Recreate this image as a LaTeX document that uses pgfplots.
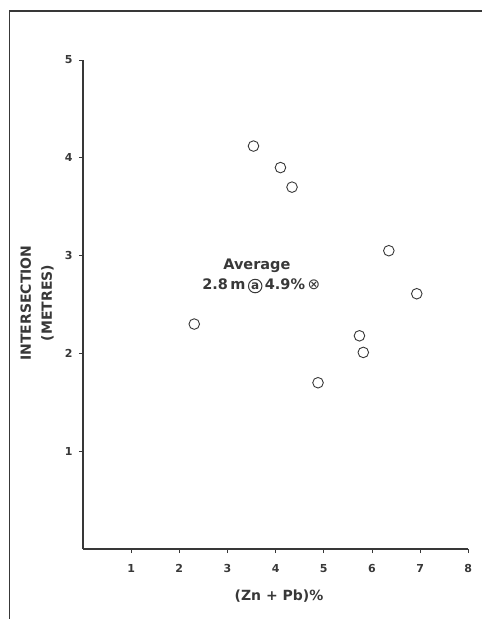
\documentclass[border=0pt]{standalone}
\usepackage{pgfplots}
\pgfplotsset{compat=1.18}
\usepackage{fontspec}
\setmainfont{DejaVu Sans}
\definecolor{ink}{gray}{0.22}
\newcommand{\circa}{\tikz[baseline=(ca.base)]\node[draw=ink, circle, line width=1pt, inner sep=0pt, minimum size=13.5pt, text=ink, font=\fontsize{12}{13}\selectfont\bfseries] (ca) {a};}
\begin{document}
\begin{tikzpicture}
\path[use as bounding box] (0pt,0pt) rectangle (482pt,619pt);
\draw[line width=1.6pt, ink] (9.5pt,0pt) -- (9.5pt,608pt) -- (482pt,608pt);
\begin{axis}[
  at={(83pt,70pt)}, anchor=south west,
  scale only axis, width=385.3pt, height=489pt,
  xmin=0, xmax=8, ymin=0, ymax=5,
  axis x line*=bottom, axis y line*=left,
  axis line style={-, ink, line width=1.1pt},
  xtick={1,2,3,4,5,6,7,8}, ytick={1,2,3,4,5},
  tick align=outside, major tick length=4pt,
  tick style={ink, line width=0.9pt},
  /pgf/number format/assume math mode=true,
  ticklabel style={font=\fontsize{11}{13}\selectfont\bfseries, text=ink},
  xticklabel style={yshift=-8pt},
  yticklabel style={xshift=-3pt},
  clip=false,
]
\addplot[only marks, mark=o, mark size=5.3pt, mark options={ink, line width=0.9pt, fill=white}] coordinates {
  (3.54,4.12) (4.10,3.90) (4.34,3.70) (6.35,3.05) (6.93,2.61)
  (2.31,2.30) (5.74,2.18) (5.82,2.01) (4.88,1.70)
};
\node[font=\fontsize{14.5}{16}\selectfont\bfseries, text=ink] at (axis cs:3.61,2.90) {Average};
\node[font=\fontsize{14.5}{16}\selectfont\bfseries, text=ink] at (axis cs:3.70,2.69) {2.8\,m\,\circa\,4.9\%\,{\mdseries\fontsize{15}{15}\selectfont ⊗}};
\end{axis}
\node[font=\fontsize{14}{16}\selectfont\bfseries, text=ink] at (279pt,23pt) {(Zn + Pb)\%};
\node[font=\fontsize{14}{16}\selectfont\bfseries, text=ink, rotate=90, align=center, inner sep=0pt] at (37pt,316pt) {INTERSECTION\\[5pt](METRES)};
\end{tikzpicture}
\end{document}
